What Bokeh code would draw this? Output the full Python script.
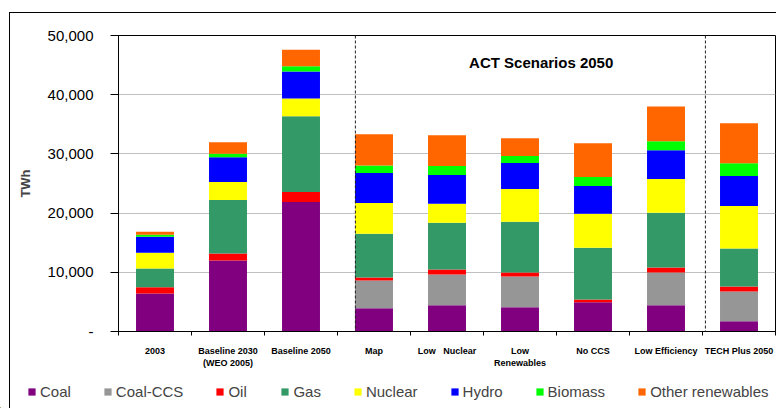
from bokeh.plotting import figure
from bokeh.layouts import column
from bokeh.models import (Range1d, FixedTicker, NumeralTickFormatter, Span, Label,
                          Legend, LegendItem, ColumnDataSource, InlineStyleSheet)
from bokeh.embed import file_html
from bokeh.resources import INLINE

categories = ["2003", "Baseline 2030", "Baseline 2050", "Map", "Low Nuclear",
              "Low Renewables", "No CCS", "Low Efficiency", "TECH Plus 2050"]
tick_labels = ["2003", "Baseline 2030\n(WEO 2005)", "Baseline 2050", "Map",
               "Low\u00a0\u00a0\u00a0Nuclear", "Low\nRenewables", "No CCS",
               "Low Efficiency", "TECH Plus 2050"]

coal = [6430, 11980, 21890, 3920, 4420, 4080, 4920, 4420, 1730]
coal_ccs = [0, 0, 0, 4700, 5210, 5210, 0, 5540, 5040]
oil = [1060, 1180, 1680, 500, 840, 670, 500, 840, 840]
gas = [3140, 9070, 12770, 7390, 7900, 8570, 8740, 9240, 6390]
nuclear = [2690, 3020, 3020, 5210, 3190, 5550, 5710, 5710, 7220]
hydro = [2690, 4200, 4540, 5040, 4870, 4370, 4700, 4870, 5040]
biomass = [340, 560, 900, 1290, 1510, 1180, 1510, 1510, 2180]
other_renewables = [500, 1970, 2800, 5260, 5210, 3020, 5710, 5880, 6720]

series_names = ["Coal", "Coal-CCS", "Oil", "Gas", "Nuclear", "Hydro", "Biomass", "Other renewables"]
series_keys = ["coal", "coal_ccs", "oil", "gas", "nuclear", "hydro", "biomass", "other"]
colors = ["#800080", "#969696", "#FF0000", "#339966", "#FFFF00", "#0000FF", "#00FF00", "#FF6600"]

y_ticks = [0, 10000, 20000, 30000, 40000, 50000]
annotation_text = "ACT Scenarios 2050"

n = len(categories)
source = ColumnDataSource(dict(
    x=list(range(n)), coal=coal, coal_ccs=coal_ccs, oil=oil, gas=gas,
    nuclear=nuclear, hydro=hydro, biomass=biomass, other=other_renewables))

p = figure(width=776, height=370, x_range=Range1d(-0.5, n - 0.5), y_range=Range1d(0, 50000),
           output_backend="svg", toolbar_location=None,
           min_border_left=118, min_border_right=1, min_border_top=35, min_border_bottom=38)
p.background_fill_color = "white"
p.border_fill_color = "white"
p.outline_line_color = "black"
p.outline_line_width = 1

p.vbar_stack(series_keys, x="x", width=0.52, source=source,
             fill_color=colors, line_color=None)

# x axis: labels at category centres, tick marks at boundaries
p.xaxis.ticker = FixedTicker(ticks=list(range(n)), minor_ticks=[i - 0.5 for i in range(n + 1)])
p.xaxis.major_label_overrides = {i: lbl for i, lbl in enumerate(tick_labels)}
p.xaxis.major_tick_line_color = None
p.xaxis.major_tick_out = 0
p.xaxis.major_tick_in = 0
p.xaxis.minor_tick_line_color = "black"
p.xaxis.minor_tick_out = 4
p.xaxis.minor_tick_in = 0
p.xaxis.major_label_standoff = 10
p.xaxis.major_label_text_font = "Liberation Sans"
p.xaxis.major_label_text_font_style = "bold"
p.xaxis.major_label_text_font_size = "9px"
p.xaxis.major_label_text_color = "black"
p.xaxis.axis_line_color = "black"
p.xgrid.visible = False

# y axis
p.yaxis.ticker = FixedTicker(ticks=y_ticks)
p.yaxis.formatter = NumeralTickFormatter(format="0,0")
p.yaxis.major_label_overrides = {0: "-"}
p.yaxis.major_tick_out = 8
p.yaxis.major_tick_in = 0
p.yaxis.minor_tick_line_color = None
p.yaxis.major_tick_line_color = "black"
p.yaxis.axis_line_color = "black"
p.yaxis.major_label_standoff = 17
p.yaxis.major_label_text_font = "Liberation Sans"
p.yaxis.major_label_text_font_size = "15px"
p.yaxis.major_label_text_color = "black"
p.yaxis.axis_label = "TWh"
p.yaxis.axis_label_text_font = "Liberation Sans"
p.yaxis.axis_label_text_font_style = "bold"
p.yaxis.axis_label_text_font_size = "13px"
p.yaxis.axis_label_standoff = 12
p.ygrid.grid_line_color = "#C0C0C0"
p.ygrid.grid_line_width = 1

for loc in (2.745, 7.54):
    p.add_layout(Span(location=loc, dimension="height", line_color="#222222",
                      line_dash="3 2", line_width=1))

p.add_layout(Label(x=5.29, y=45460, text=annotation_text, text_font="Liberation Sans",
                   text_font_style="bold", text_font_size="15px",
                   text_align="center", text_baseline="middle", text_color="black"))

css = (":host::before { content: ''; position: fixed; left: 9px; top: 12px; "
       "right: -20px; bottom: -20px; border-left: 1px solid #000; border-top: 1px solid #000; "
       "pointer-events: none; z-index: 100; }")
p.stylesheets = [InlineStyleSheet(css=css)]

# legend strip below the chart
lg = figure(width=776, height=38, x_range=Range1d(0, 776), y_range=Range1d(0, 38),
            output_backend="svg", toolbar_location=None,
            x_axis_location=None, y_axis_location=None,
            min_border_left=0, min_border_right=0, min_border_top=0, min_border_bottom=0)
lg.outline_line_color = None
lg.xgrid.visible = False
lg.ygrid.visible = False
lg.background_fill_color = "white"
lg.border_fill_color = "white"

for fig in (p, lg):
    try:
        fig.frame_align = False
    except Exception:
        pass

items = []
for nm, c in zip(series_names, colors):
    # off-screen proxy so that the legend swatch is drawn
    r = lg.vbar(x=[-100], top=[1], width=1, fill_color=c, line_color=None)
    items.append(LegendItem(label=nm, renderers=[r]))
legend = Legend(items=items, orientation="horizontal", location=(27, 8),
                border_line_color=None, background_fill_alpha=0,
                label_text_font="Liberation Sans", label_text_font_size="15px",
                glyph_width=9, glyph_height=9, label_standoff=4, spacing=32,
                padding=0, margin=0, label_height=15)
lg.add_layout(legend)

layout = column(p, lg, spacing=0)

open("out.html", "w").write(file_html(layout, INLINE))
